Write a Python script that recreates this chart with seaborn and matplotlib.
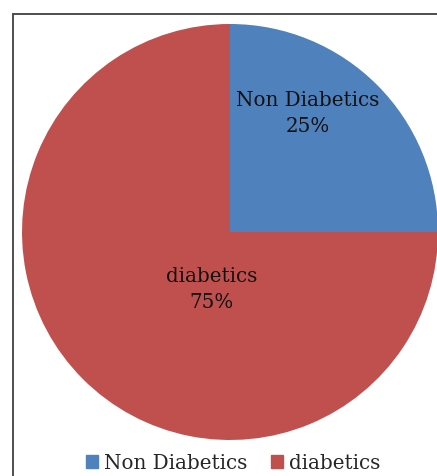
import matplotlib
matplotlib.use("Agg")
import matplotlib.pyplot as plt
import matplotlib.patches as mpatches
import seaborn as sns

categories = ["Non Diabetics", "diabetics"]
shares = [25, 75]
colors = ["#4F81BD", "#C0504D"]

sns.set_theme(style="white")
plt.rcParams['font.family'] = ['DejaVu Serif']

fig = plt.figure(figsize=(4.37, 4.76), dpi=100)
ax = fig.add_axes([22 / 437, 36 / 476, 416 / 437, 416 / 476])

wedges, _ = ax.pie(shares, colors=colors, startangle=90, counterclock=False,
                   wedgeprops=dict(linewidth=0))
ax.set_xlim(-1, 1)
ax.set_ylim(-1, 1)
ax.set_aspect("equal")
ax.axis("off")

# slice labels
label_pos = [(0.375, 0.57), (-0.09, -0.275)]
for (x, y), name, val in zip(label_pos, categories, shares):
    ax.text(x, y, f"{name}\n{val}%", ha="center", va="center",
            fontsize=14.3, color="#111111", linespacing=1.45)

# chart frame
frame = mpatches.Rectangle((12.5 / 437, -0.1), 1.2, (476 - 14) / 476 + 0.1,
                           transform=fig.transFigure, fill=False,
                           edgecolor="#404040", linewidth=1.3, clip_on=False)
fig.patches.append(frame)

handles = [mpatches.Patch(color=c, label=n) for c, n in zip(colors, categories)]
fig.legend(handles=handles, loc="center", bbox_to_anchor=(0.533, 0.027),
           ncol=2, frameon=False, fontsize=14.3, handlelength=0.6,
           handleheight=0.6, handletextpad=0.3, columnspacing=1.2)

fig.savefig("out.png", dpi=100)
